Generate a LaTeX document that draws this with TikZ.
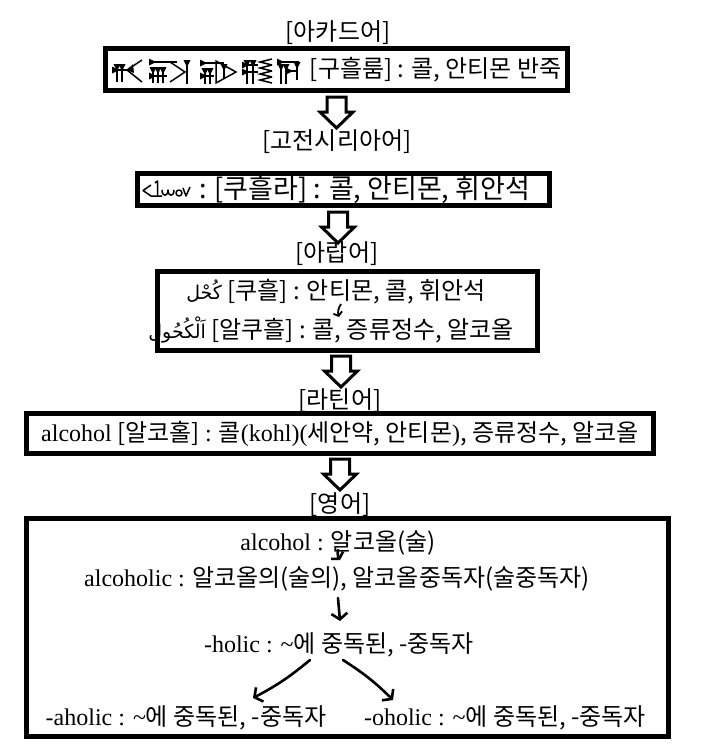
\documentclass[tikz,border=0pt]{standalone}
\usepackage{fontspec}
\setmainfont{Noto Sans CJK KR}
\newfontfamily\lat{Liberation Serif}
\newfontfamily\arabicfont[Script=Arabic]{DejaVu Sans}
\TeXXeTstate=1
\usetikzlibrary{arrows.meta}

% wedges for the cuneiform signs
\newcommand{\cuneh}[3]{\fill (#1,#2-3.5) -- (#1+7,#2) -- (#1,#2+3.5) -- cycle; \draw[wedge] (#1,#2) -- ++(#3,0);}
\newcommand{\cunev}[3]{\fill (#1-3.5,#2) -- (#1,#2+7) -- (#1+3.5,#2) -- cycle; \draw[wedge] (#1,#2) -- ++(0,#3);}
\tikzset{blockarrow/.pic={\draw[line width=3pt,fill=white] (-9.5,0) -- (9.5,0) -- (9.5,15) -- (16.5,15) -- (0,31) -- (-16.5,15) -- (-9.5,15) -- cycle;}}

\begin{document}
\begin{tikzpicture}[x=1pt,y=-1pt,>={Straight Barb[length=6pt,width=16pt]},semithick]
\tikzstyle{every node}=[inner sep=0pt,font=\fontsize{24}{28}\selectfont]
\tikzstyle{wordbox}=[draw,line width=5pt]
\tikzstyle{hand}=[->,line width=2.6pt,line cap=round]
\tikzstyle{wedge}=[line width=1.5pt]
\useasboundingbox (0,0) rectangle (704,753);

% Akkadian
\node (lblakk) at (338,33) {[아카드어]};
\node[wordbox,minimum width=462pt,minimum height=42pt,text width=450pt,align=flush right] (akk) at (336.5,69.5)
  {[구흘룸] : 콜, 안티몬 반죽};
\cuneh{112}{70}{20} \cunev{117}{64}{18} \cunev{122}{64}{18}
\draw[wedge] (142,60) -- (127,70) -- (142,82);
\fill (127,70) -- (133,64) -- (134,73) -- cycle;
\cuneh{149}{62}{28} \cunev{153}{67}{16} \cunev{158}{67}{16} \cunev{163}{67}{16} \cuneh{149}{76}{18}
\draw[wedge] (170,62) -- (185,72) -- (170,82);
\cunev{187}{60}{24}
\cuneh{200}{63}{24} \cunev{205}{68}{16} \cunev{210}{68}{16} \cuneh{200}{76}{14}
\draw[wedge] (216,61) -- (236,72) -- (216,83) -- cycle;
\cunev{224}{64}{14}
\cunev{247}{60}{24} \cunev{253}{60}{24} \cuneh{242}{65}{16} \cuneh{242}{72}{16}
\foreach \y in {62,68,74,80}
  \draw[wedge] (272,\y-3) -- (260,\y) -- (272,\y+3);
\cuneh{277}{62}{22} \cunev{281}{64}{20} \cunev{286}{64}{20} \cunev{297}{62}{18} \cuneh{286}{71}{11}
\pic at ([yshift=-4pt]akk.south) {blockarrow};

% Classical Syriac
\node (lblsyr) at (337,142) {[고전시리아어]};
\node[wordbox,minimum width=412pt,minimum height=32pt,text width=373pt,align=flush right,font=\fontsize{27}{30}\selectfont] (syr) at (343.5,189.5)
  {: [쿠흘라] : 콜, 안티몬, 휘안석};
\draw[line width=1.5pt,line join=round]
  (151,185) -- (143,190.5) -- (151,196) -- (162,196)
  (155,183) -- (157.5,181) -- (157.5,196)
  (162,190) .. controls (162,197) and (168,197) .. (168,190) .. controls (168,197) and (174,197) .. (174,190)
  (179,193) circle (3)
  (183,188) -- (186,196) -- (190,187);
\pic at ([xshift=-5.5pt,yshift=-4pt]syr.south) {blockarrow};

% Arabic
\node (lblarab) at (337,254) {[아랍어]};
\draw[wordbox] (157.5,271.5) rectangle (537.5,350.5);
\node (arabone) at (336,292) {{\arabicfont\fontsize{19}{22}\selectfont\beginR كُحْل\endR} [쿠흘] : 안티몬, 콜, 휘안석};
\node (arabtwo) at (331,330) {{\arabicfont\fontsize{19}{22}\selectfont\beginR اَلْكُحُول\endR} [알쿠흘] : 콜, 증류정수, 알코올};
\draw[->,line width=1.8pt,>={Straight Barb[length=3.5pt,width=9pt]}] ([xshift=5pt,yshift=-12pt]arabone.center) to[bend right=25] ([xshift=8pt,yshift=13pt]arabtwo.center);
\pic at (341,356) {blockarrow};

% Latin
\node (lbllat) at (340,401) {[라틴어]};
\node[wordbox,minimum width=627pt,minimum height=40pt] (lat) at (340,433.5)
  {{\lat alcohol} [알코홀] {\lat :} 콜{\lat (kohl)(}세안약, 안티몬{\lat )}, 증류정수, 알코올};
\pic at ([yshift=-3pt]lat.south) {blockarrow};

% English
\node (lbleng) at (340,505) {[영어]};
\draw[wordbox] (26.5,518.5) rectangle (668.5,736.5);
\node (engone) at (338,543) {{\lat alcohol :} 알코올(술)};
\node (engtwo) at (337,579) {{\lat alcoholic :} 알코올의(술의), 알코올중독자(술중독자)};
\node (engthree) at (339,645) {{\lat -holic : \textasciitilde}에 중독된, -중독자};
\node (engfour) at (186,718) {{\lat -aholic : \textasciitilde}에 중독된, -중독자};
\node (engfive) at (505,718) {{\lat -oholic : \textasciitilde}에 중독된, -중독자};
\draw[hand,>={Straight Barb[length=4pt,width=14pt]}] ([yshift=-7pt]engone.center) to[bend right=20] ([xshift=3pt,yshift=19pt]engtwo.center);
\draw[hand] ([xshift=1pt,yshift=-19pt]engtwo.center) -- ([xshift=1pt,yshift=24pt]engthree.center);
\draw[hand] ([xshift=-29pt,yshift=-15pt]engthree.center) to[bend left=6] ([xshift=67pt,yshift=20pt]engfour.center);
\draw[hand] ([xshift=4pt,yshift=-15pt]engthree.center) to[bend left=6] ([xshift=-112pt,yshift=18pt]engfive.center);
\end{tikzpicture}
\end{document}
